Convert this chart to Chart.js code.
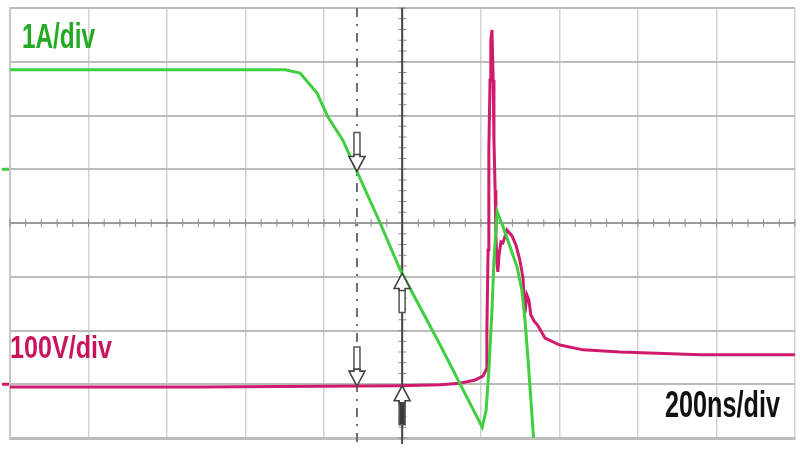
<!DOCTYPE html>
<html>
<head>
<meta charset="utf-8">
<script src="https://cdn.jsdelivr.net/npm/chart.js@4"></script>
<style>
  html, body { margin: 0; padding: 0; background: #ffffff; }
  #wrap { width: 800px; height: 460px; position: relative; }
</style>
</head>
<body>
<div id="wrap"><canvas id="c" width="800" height="460"></canvas></div>
<script>
// ---- Data (time in ns, current in A, voltage in V) ----
const currentTime = [0, 701, 739, 782, 810, 848, 879, 943, 994, 1096, 1203, 1213, 1220, 1228, 1233, 1241, 1254, 1274, 1292, 1304, 1312, 1320, 1327, 1335];
const currentVals = [1.85, 1.85, 1.79, 1.42, 0.97, 0.54, 0.04, -1.0, -1.87, -3.27, -4.80, -4.49, -3.74, -2.62, -1.69, -0.79, -1.03, -1.44, -1.82, -2.24, -2.80, -3.55, -4.28, -5.12];

const voltageTime = [0, 484, 994, 1096, 1146, 1185, 1205, 1213, 1215, 1218, 1220, 1223, 1225, 1228, 1231, 1233, 1236, 1238, 1241, 1243, 1246, 1251, 1256, 1266, 1279, 1289, 1299, 1307, 1312, 1317, 1322, 1327, 1335, 1345, 1363, 1401, 1460, 1554, 1758, 2000];
const voltageVals = [-5, -5, -3, -1, 2, 8, 15, 27, 101, 250, 436, 566, 640, 659, 566, 455, 361, 276, 223, 209, 241, 265, 263, 287, 276, 259, 231, 198, 133, 166, 157, 129, 118, 109, 86, 73, 64, 60, 55, 55];

const cursorTimes = [884, 999];          // ns
const timeRange = [0, 2000];             // 200 ns/div, 10 div
const currentRange = [-5, 3];            // 1 A/div, 8 div
const voltageRange = [-100, 700];        // 100 V/div, 8 div

const labelCurrent = '1A/div';
const labelVoltage = '100V/div';
const labelTime = '200ns/div';

const GREEN = '#3fcf3f';
const MAGENTA = '#d01a6c';

function pts(xs, ys) { return xs.map((x, i) => ({ x: x, y: ys[i] })); }
function interp(xs, ys, t) {
  for (let i = 1; i < xs.length; i++) {
    if (t <= xs[i]) {
      const f = (t - xs[i - 1]) / (xs[i] - xs[i - 1]);
      return ys[i - 1] + f * (ys[i] - ys[i - 1]);
    }
  }
  return ys[ys.length - 1];
}

function drawText(ctx, text, left, right, baseline, size, color, weight) {
  ctx.save();
  ctx.font = (weight || 'normal') + ' ' + size + 'px "Liberation Sans", Arial, sans-serif';
  const w = ctx.measureText(text).width;
  const sx = (right - left) / w;
  ctx.translate(left, baseline);
  ctx.scale(sx, 1);
  ctx.fillStyle = color;
  ctx.textBaseline = 'alphabetic';
  ctx.fillText(text, 0, 0);
  ctx.restore();
}

function arrow(ctx, x, tipY, dir, stemDark) {
  // dir = 1 : pointing down (body above), dir = -1 : pointing up (body below)
  const headH = 15, headW = 8, stemW = 3, stemL = 24;
  const b = tipY - dir * headH;
  ctx.save();
  ctx.beginPath();
  ctx.rect(x - stemW, b - dir * stemL, stemW * 2, dir * stemL);
  ctx.fillStyle = stemDark ? '#3a3a3a' : '#ffffff';
  ctx.fill();
  ctx.lineWidth = 1.5;
  ctx.strokeStyle = '#555';
  ctx.stroke();
  ctx.beginPath();
  ctx.moveTo(x, tipY);
  ctx.lineTo(x - headW, b);
  ctx.lineTo(x - stemW, b);
  ctx.lineTo(x - stemW, b - dir * 2);
  ctx.lineTo(x + stemW, b - dir * 2);
  ctx.lineTo(x + stemW, b);
  ctx.lineTo(x + headW, b);
  ctx.closePath();
  ctx.fillStyle = '#ffffff';
  ctx.fill();
  ctx.lineWidth = 1.6;
  ctx.strokeStyle = '#444';
  ctx.stroke();
  ctx.restore();
}

const scopePlugin = {
  id: 'scope',
  beforeDatasetsDraw(chart) {
    const { ctx, chartArea: a, scales } = chart;
    const xs = scales.x, yI = scales.yI;
    ctx.save();
    const cy = yI.getPixelForValue((currentRange[0] + currentRange[1]) / 2);
    const cx = xs.getPixelForValue((timeRange[0] + timeRange[1]) / 2);
    ctx.strokeStyle = '#8c8c8c';
    ctx.lineWidth = 1;
    const stepX = (xs.getPixelForValue(200) - xs.getPixelForValue(0)) / 5;
    for (let px = a.left; px <= a.right + 0.5; px += stepX) {
      ctx.beginPath(); ctx.moveTo(px, cy - 4); ctx.lineTo(px, cy + 4); ctx.stroke();
    }
    const stepY = (yI.getPixelForValue(0) - yI.getPixelForValue(1)) / 5;
    for (let py = a.top; py <= a.bottom + 0.5; py += stepY) {
      ctx.beginPath(); ctx.moveTo(cx - 4, py); ctx.lineTo(cx + 4, py); ctx.stroke();
    }
    const c1 = xs.getPixelForValue(cursorTimes[0]);
    ctx.strokeStyle = '#6e6e6e';
    ctx.lineWidth = 2;
    ctx.setLineDash([9, 7, 2, 7]);
    ctx.beginPath(); ctx.moveTo(c1, a.top); ctx.lineTo(c1, a.bottom + 6); ctx.stroke();
    ctx.setLineDash([]);
    const c2 = xs.getPixelForValue(cursorTimes[1]);
    ctx.strokeStyle = '#4a4a4a';
    ctx.lineWidth = 2;
    ctx.beginPath(); ctx.moveTo(c2, a.top); ctx.lineTo(c2, a.bottom + 6); ctx.stroke();
    ctx.lineWidth = 3;
    ctx.strokeStyle = GREEN;
    const gI = yI.getPixelForValue(0);
    ctx.beginPath(); ctx.moveTo(2, gI); ctx.lineTo(9, gI); ctx.stroke();
    ctx.strokeStyle = MAGENTA;
    const gV = scales.yV.getPixelForValue(0);
    ctx.beginPath(); ctx.moveTo(2, gV); ctx.lineTo(9, gV); ctx.stroke();
    ctx.restore();
  },
  afterDatasetsDraw(chart) {
    const { ctx, scales } = chart;
    const xs = scales.x, yI = scales.yI, yV = scales.yV;
    const c1 = xs.getPixelForValue(cursorTimes[0]);
    const c2 = xs.getPixelForValue(cursorTimes[1]);
    arrow(ctx, c1, yI.getPixelForValue(interp(currentTime, currentVals, cursorTimes[0])), 1, false);
    arrow(ctx, c1, yV.getPixelForValue(interp(voltageTime, voltageVals, cursorTimes[0])), 1, false);
    arrow(ctx, c2, yI.getPixelForValue(interp(currentTime, currentVals, cursorTimes[1])), -1, false);
    arrow(ctx, c2, yV.getPixelForValue(interp(voltageTime, voltageVals, cursorTimes[1])), -1, true);
    drawText(ctx, labelCurrent, 22, 95, 48, 35, '#22aa22', 'bold');
    drawText(ctx, labelVoltage, 10, 112, 358, 32, '#c8145f', 'bold');
    drawText(ctx, labelTime, 665, 780, 417, 37, '#111111', 'bold');
  }
};

new Chart(document.getElementById('c'), {
  type: 'line',
  data: {
    datasets: [
      {
        label: 'Current',
        data: pts(currentTime, currentVals),
        yAxisID: 'yI',
        borderColor: GREEN,
        borderWidth: 3,
        pointRadius: 0,
        tension: 0
      },
      {
        label: 'Voltage',
        data: pts(voltageTime, voltageVals),
        yAxisID: 'yV',
        borderColor: MAGENTA,
        borderWidth: 3,
        pointRadius: 0,
        tension: 0
      }
    ]
  },
  options: {
    responsive: false,
    animation: false,
    events: [],
    layout: { padding: { left: 10, right: 5, top: 8, bottom: 22 } },
    plugins: { legend: { display: false }, tooltip: { enabled: false }, title: { display: false } },
    scales: {
      x: {
        type: 'linear',
        min: timeRange[0], max: timeRange[1],
        ticks: { display: false, stepSize: 200 },
        grid: { color: '#d2d2d2', lineWidth: 1.5, drawTicks: false },
        border: { color: '#bdbdbd', width: 3 }
      },
      yI: {
        type: 'linear',
        position: 'left',
        min: currentRange[0], max: currentRange[1],
        ticks: { display: false, stepSize: 1 },
        grid: { color: (c) => (c.tick && c.tick.value === -1 ? '#9a9a9a' : '#bcbcbc'), lineWidth: 2, drawTicks: false },
        border: { color: '#c8c8c8', width: 2 }
      },
      yV: {
        type: 'linear',
        display: false,
        min: voltageRange[0], max: voltageRange[1]
      }
    }
  },
  plugins: [scopePlugin]
});
</script>
</body>
</html>
